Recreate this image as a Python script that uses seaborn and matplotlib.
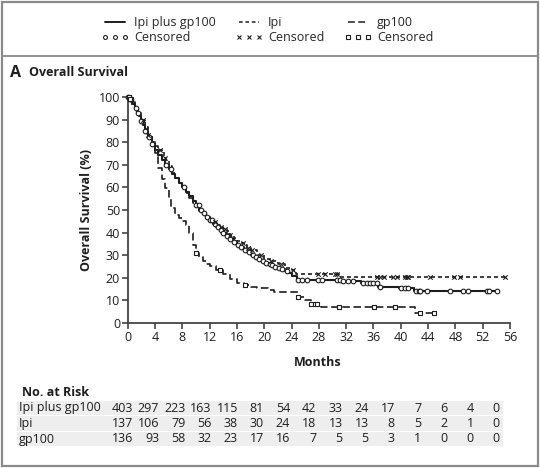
import numpy as np
import pandas as pd
import matplotlib.pyplot as plt
import seaborn as sns
from matplotlib.lines import Line2D
from matplotlib.patches import Rectangle

# Kaplan-Meier steps (months, % alive)
combo_t = [0, 0.3, 0.6, 1.0, 1.3, 1.6, 2.0, 2.3, 2.6, 3.0, 3.5, 4.0, 4.5, 5.0, 5.5, 6.0,
           6.5, 7.0, 7.5, 8.0, 8.5, 9.0, 9.5, 10.0, 10.5, 11.0, 11.5, 12.0, 12.5, 13.0,
           13.5, 14.0, 14.5, 15.0, 15.5, 16.0, 16.5, 17.0, 17.5, 18.0, 18.5, 19.0, 19.5,
           20.0, 20.5, 21.0, 21.5, 22.0, 22.5, 23.0, 23.5, 24.0, 24.8, 31.3, 34.2, 36.6,
           39.8, 42.0, 54.2]
combo_s = [100, 99, 97, 95, 93, 91.5, 89.5, 87.5, 85, 82.5, 79, 76.5, 74.3, 72, 70, 68,
           66, 64, 62, 60, 58, 56, 54, 52, 50, 48.5, 47, 45.5, 44, 42.5,
           41.2, 40, 38.5, 37, 36, 34.7, 33.5, 32.3, 31.2, 30.1, 29.2, 28.2, 27.3,
           26.7, 26, 25.5, 25, 24.5, 24, 23, 22, 21, 19.0, 18.6, 17.6, 16.1,
           15.4, 14.3, 14.3]

ipi_t = [0, 0.3, 0.6, 1.0, 1.5, 2.0, 2.5, 3.0, 3.5, 4.0, 4.5, 5.0, 5.3, 5.6, 6.0, 6.5,
         7.0, 7.5, 8.0, 8.5, 9.0, 9.5, 10.0, 10.5, 11.0, 11.5, 12.0, 12.5, 13.0, 13.5,
         14.0, 14.5, 15.0, 15.5, 16.0, 16.5, 17.0, 17.5, 18.0, 19.0, 20.0, 21.0, 22.0,
         23.0, 24.0, 24.7, 31.0, 55.2]
ipi_s = [100, 99.3, 97.8, 95.6, 92.7, 89.8, 86.9, 83.2, 80.3, 78.1, 76.6, 75.9, 73.0,
         71.5, 69.3, 66.4, 64.2, 62.0, 59.9, 57.7, 55.5, 53.3, 51.1, 49.6, 48.2, 46.7,
         45.6, 44.5, 43.4, 42.3, 41.6, 40.5, 39.0, 37.6, 36.5, 35.3, 34.3, 33.2, 32.1,
         30.0, 28.5, 27.5, 26.0, 24.5, 23.5, 21.7, 20.2, 20.2]

gp_t = [0, 0.3, 0.6, 1.0, 1.5, 2.0, 2.5, 3.0, 3.5, 4.0, 4.5, 5.0, 5.5, 6.0, 6.4, 7.0,
        7.5, 8.0, 8.5, 9.0, 9.5, 10.0, 10.5, 11.0, 11.5, 12.0, 13.0, 14.0, 15.0, 16.0,
        17.0, 18.0, 19.0, 20.5, 21.5, 24.9, 26.0, 26.8, 28.3, 42.1, 44.9]
gp_s = [100, 99.3, 97.8, 95.6, 92.6, 89.7, 86.0, 82.4, 78.7, 75.0, 68.4, 63.9, 59.6,
        55.0, 50.7, 47.8, 46.3, 45.3, 43.5, 40.0, 34.5, 31.0, 29.0, 27.5, 26.3, 25.3,
        23.5, 21.5, 19.5, 17.6, 16.8, 16.0, 15.3, 14.6, 13.9, 11.6, 10.2, 8.3, 6.9,
        4.6, 4.6]

# censoring times
combo_cens = [0.1, 0.3, 0.5, 1.2, 1.5, 2.0, 2.6, 3.1, 3.5, 5.6, 6.3, 8.2, 10.0, 10.4,
              10.8, 11.2, 11.6, 12.0, 12.4, 12.8, 13.2, 13.6, 14.0, 14.5, 15.0, 15.5,
              16.2, 16.6, 17.2, 17.8, 18.3, 18.8, 19.3, 19.8, 20.3, 20.8, 21.2, 21.6,
              22.1, 22.6, 23.3, 24.9, 25.5, 26.2, 27.9, 28.4, 30.6, 31.1, 31.6, 32.3,
              33.0, 34.5, 35.0, 35.5, 36.0, 36.5, 37.0, 40.1, 40.6, 41.1, 42.3, 42.6,
              42.8, 43.8, 47.2, 49.1, 49.9, 52.6, 52.9, 54.1]
ipi_cens = [0.2, 0.5, 2.2, 3.0, 4.8, 5.5, 12.8, 13.6, 14.2, 15.0, 16.9, 17.6, 18.2,
            19.5, 21.0, 22.5, 24.2, 27.9, 28.9, 30.4, 30.7, 36.5, 37.0, 37.5, 38.9,
            39.4, 40.6, 40.9, 41.1, 44.3, 47.8, 48.7, 55.2]
gp_cens = [0.2, 0.4, 10.0, 13.5, 17.2, 24.9, 26.9, 27.4, 27.7, 31.0, 36.1, 39.2,
           42.8, 44.8]

risk_labels = ["Ipi plus gp100", "Ipi", "gp100"]
risk_combo = [403, 297, 223, 163, 115, 81, 54, 42, 33, 24, 17, 7, 6, 4, 0]
risk_ipi = [137, 106, 79, 56, 38, 30, 24, 18, 13, 13, 8, 5, 2, 1, 0]
risk_gp = [136, 93, 58, 32, 23, 17, 16, 7, 5, 5, 3, 1, 0, 0, 0]

sns.set_theme(style="white")
plt.rcParams["font.family"] = ["Open Sans", "DejaVu Sans"]

ink = "#1e1e1e"
fs = 9
W, H = 540, 468
fig = plt.figure(figsize=(5.4, 4.68), dpi=100)
ax = fig.add_axes([127.7 / W, 1 - 323 / H, (510 - 127.7) / W, (323 - 97) / H])


def step_at(t, s, q):
    idx = np.searchsorted(np.array(t), np.array(q), side="right") - 1
    return np.array(s)[idx]


groups = [
    ("Ipi plus gp100", combo_t, combo_s, combo_cens, "-", "o", 1.5),
    ("Ipi", ipi_t, ipi_s, ipi_cens, (0, (2.4, 1.8)), "x", 1.2),
    ("gp100", gp_t, gp_s, gp_cens, (0, (4.5, 2.2)), "s", 1.2),
]

for name, t, s, cens, ls, mk, lw in groups:
    df = pd.DataFrame({"Months": t, "Survival": s})
    sns.lineplot(data=df, x="Months", y="Survival", ax=ax, color=ink,
                 drawstyle="steps-post", linestyle=ls, linewidth=lw,
                 estimator=None, sort=False, clip_on=False)
    cdf = pd.DataFrame({"Months": cens, "Survival": step_at(t, s, cens)})
    if mk == "x":
        ax.scatter(cdf["Months"], cdf["Survival"], marker="x", s=10, color=ink,
                   linewidths=0.8, clip_on=False, zorder=3)
    else:
        ax.scatter(cdf["Months"], cdf["Survival"], marker=mk, s=11 if mk == "o" else 9,
                   facecolors="white", edgecolors=ink, linewidths=0.8,
                   clip_on=False, zorder=3)

ax.set_xlim(0, 56)
ax.set_ylim(0, 100)
ax.set_xticks(np.arange(0, 57, 4))
ax.set_yticks(np.arange(0, 101, 10))
ax.set_xlabel("")
ax.set_ylabel("")
sns.despine(ax=ax)
for sp in ["left", "bottom"]:
    ax.spines[sp].set_color("#444444")
    ax.spines[sp].set_linewidth(1.3)
ax.tick_params(axis="both", direction="out", length=4, width=1.2, color="#444444",
               labelsize=fs, labelcolor=ink, pad=1.5, left=True, bottom=True)

# overlay in pixel coordinates for frame, titles, legend and risk table
ov = fig.add_axes([0, 0, 1, 1], facecolor="none")
ov.set_xlim(0, W)
ov.set_ylim(H, 0)
ov.axis("off")
ov.add_patch(Rectangle((2, 2), W - 4, H - 4, fill=False, edgecolor="#8a8a8a", lw=1.6))
ov.plot([2, W - 2], [56, 56], color="#8a8a8a", lw=1.3)

ov.text(10, 73, "A", fontsize=11.5, fontweight="bold", color=ink, va="center")
ov.text(29, 73, "Overall Survival", fontsize=fs, fontweight="bold", color=ink,
        va="center")
ov.text(86, 210, "Overall Survival (%)", fontsize=fs, fontweight="bold", color=ink,
        rotation=90, ha="center", va="center")
ov.text(318, 362, "Months", fontsize=fs, fontweight="bold", color=ink,
        ha="center", va="center")

handles = [
    Line2D([], [], color=ink, lw=1.4, linestyle="-"),
    Line2D([], [], color=ink, marker="o", linestyle="none", markersize=2.8,
           markerfacecolor="white", markeredgewidth=0.8),
    Line2D([], [], color=ink, lw=1.1, linestyle=(0, (2.4, 1.8))),
    Line2D([], [], color=ink, marker="x", linestyle="none", markersize=2.8,
           markeredgewidth=0.8),
    Line2D([], [], color=ink, lw=1.1, linestyle=(0, (4.5, 2.2))),
    Line2D([], [], color=ink, marker="s", linestyle="none", markersize=2.6,
           markerfacecolor="white", markeredgewidth=0.8),
]
labels = ["Ipi plus gp100", "Censored", "Ipi", "Censored", "gp100", "Censored"]
fig.legend(handles, labels, ncol=3, loc="upper center", bbox_to_anchor=(0.495, 0.99),
           frameon=False, fontsize=fs, numpoints=3, handlelength=2.2,
           handletextpad=0.4, columnspacing=1.6, labelspacing=0.2)

ov.text(22, 392, "No. at Risk", fontsize=fs, fontweight="bold", color=ink,
        va="center")
row_y = [408, 423.5, 439]
for y, lab, vals in zip(row_y, risk_labels, [risk_combo, risk_ipi, risk_gp]):
    ov.add_patch(Rectangle((17, y - 7.2), 486, 14.4, facecolor="#eeeeee",
                           edgecolor="none"))
    ov.text(19, y, lab, fontsize=fs, color=ink, va="center")
    for i, v in enumerate(vals):
        ov.text(133 + 26.2 * i, y, str(v), fontsize=fs, color=ink,
                ha="right", va="center")

fig.savefig("out.png", dpi=100)
